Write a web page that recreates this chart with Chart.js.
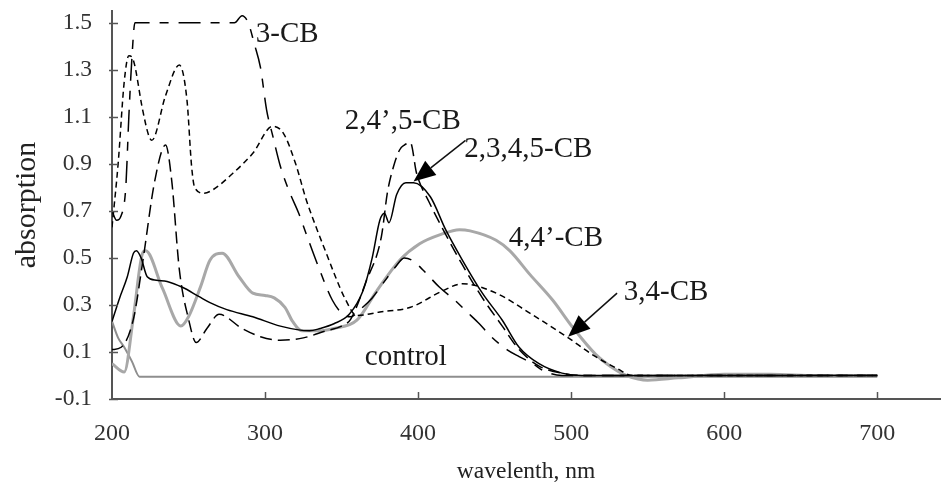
<!DOCTYPE html>
<html>
<head>
<meta charset="utf-8">
<script src="https://cdn.jsdelivr.net/npm/chart.js@4"></script>
<style>
  html, body { margin: 0; padding: 0; background: #fff; }
  #wrap { width: 946px; height: 487px; }
</style>
</head>
<body>
<div id="wrap"><canvas id="spectraChart" width="946" height="487"></canvas></div>
<script>
// tick values
const xTicks = [200, 300, 400, 500, 600, 700];
const yTicks = [-0.1, 0.1, 0.3, 0.5, 0.7, 0.9, 1.1, 1.3, 1.5];

// 3-CB
const cb3X = [200, 203, 206, 209, 211, 213, 215, 250, 280, 285, 289, 293, 297, 301, 305, 310, 316, 322, 327, 335, 344, 351, 356, 362, 370, 378, 385, 391, 396, 403, 414, 424, 432, 440, 447, 458, 466, 475, 482, 494, 550, 700];
const cb3Y = [0.70, 0.66, 0.68, 0.80, 1.10, 1.35, 1.50, 1.50, 1.50, 1.53, 1.50, 1.41, 1.31, 1.13, 1.02, 0.89, 0.78, 0.69, 0.60, 0.46, 0.32, 0.26, 0.25, 0.28, 0.33, 0.40, 0.46, 0.50, 0.49, 0.45, 0.375, 0.32, 0.27, 0.22, 0.17, 0.11, 0.08, 0.05, 0.02, 0.0, 0.0, 0.0];

// 2,4',5-CB
const cb245X = [200, 206, 214, 220, 228, 235, 239, 244, 250, 255, 262, 270, 285, 297, 310, 325, 340, 350, 356, 366, 376, 380, 384, 388, 391, 395, 399, 407, 418, 429, 442, 455, 466, 479, 494, 507, 700];
const cb245Y = [0.11, 0.12, 0.24, 0.48, 0.83, 0.98, 0.83, 0.45, 0.24, 0.14, 0.20, 0.26, 0.20, 0.165, 0.15, 0.16, 0.19, 0.21, 0.24, 0.40, 0.59, 0.78, 0.89, 0.96, 0.98, 0.99, 0.86, 0.74, 0.60, 0.47, 0.33, 0.21, 0.11, 0.04, 0.01, 0.0, 0.0];

// 2,3,4,5-CB
const cb2345X = [200, 205, 210, 214, 216, 219, 223, 229, 236, 246, 257, 264, 275, 292, 310, 329, 336, 345, 355, 364, 370, 375, 378, 381, 386, 392, 397, 408, 418, 429, 442, 455, 466, 479, 494, 507, 700];
const cb2345Y = [0.23, 0.33, 0.42, 0.52, 0.53, 0.50, 0.42, 0.405, 0.40, 0.375, 0.335, 0.31, 0.28, 0.25, 0.21, 0.19, 0.20, 0.22, 0.26, 0.36, 0.50, 0.66, 0.69, 0.65, 0.77, 0.82, 0.82, 0.76, 0.62, 0.49, 0.35, 0.235, 0.12, 0.05, 0.01, 0.0, 0.0];

// 4,4'-CB
const cb44X = [200, 208, 214, 220, 222, 233, 245, 250, 258, 264, 272, 283, 292, 300, 306, 313, 318, 324, 335, 345, 360, 373, 388, 401, 415, 427, 434, 451, 460, 473, 488, 501, 516, 530, 536, 550, 570, 600, 630, 660, 700];
const cb44Y = [0.05, 0.015, 0.25, 0.52, 0.53, 0.37, 0.21, 0.25, 0.38, 0.49, 0.52, 0.42, 0.35, 0.34, 0.33, 0.29, 0.23, 0.19, 0.19, 0.20, 0.235, 0.36, 0.49, 0.56, 0.60, 0.62, 0.615, 0.575, 0.53, 0.43, 0.32, 0.205, 0.09, 0.02, 0.0, -0.02, -0.01, 0.005, 0.005, 0.0, 0.0];

// 3,4-CB
const cb34X = [200, 204, 208, 211, 214, 220, 224, 226, 235, 244, 249, 252, 254, 260, 266, 279, 292, 305, 312, 320, 327, 334, 340, 346, 352, 360, 375, 395, 416, 429, 451, 473, 497, 516, 530, 540, 700];
const cb34Y = [0.63, 0.90, 1.25, 1.36, 1.34, 1.13, 1.02, 1.00, 1.19, 1.32, 1.17, 0.89, 0.80, 0.775, 0.79, 0.86, 0.945, 1.06, 1.03, 0.90, 0.745, 0.62, 0.52, 0.42, 0.33, 0.255, 0.27, 0.29, 0.36, 0.39, 0.35, 0.265, 0.165, 0.08, 0.03, 0.0, 0.0];

// control
const controlX = [200, 204, 208, 213, 218, 700];
const controlY = [0.23, 0.16, 0.12, 0.06, -0.005, -0.005];

// curve labels, placed in data units; arrows go from (ax0, ay0) to the tip (ax1, ay1)
const notes = [
    { text: '3-CB', x: 294, y: 1.45, align: 'left' },
    { text: '2,4\u2019,5-CB', x: 390, y: 1.08, align: 'center' },
    { text: '2,3,4,5-CB', x: 472, y: 0.96, align: 'center', arrow: [431, 1.0, 397, 0.825] },
    { text: '4,4\u2019-CB', x: 490, y: 0.585, align: 'center' },
    { text: '3,4-CB', x: 562, y: 0.355, align: 'center', arrow: [530, 0.35, 498, 0.165] },
    { text: 'control', x: 392, y: 0.075, align: 'center' }
];

const serif = '"Liberation Serif", "Times New Roman", serif';

function points(xs, ys) {
    return xs.map((x, i) => ({ x, y: ys[i] }));
}

const decorPlugin = {
    id: 'decor',
    afterDraw(chart) {
        const { ctx, chartArea } = chart;
        const x = chart.scales.x;
        const y = chart.scales.y;
        ctx.save();

        // small tick marks on the inside of the axes
        ctx.strokeStyle = '#555';
        ctx.lineWidth = 1.5;
        yTicks.forEach(v => {
            const py = Math.round(y.getPixelForValue(v)) + 0.5;
            ctx.beginPath();
            ctx.moveTo(chartArea.left - 3, py);
            ctx.lineTo(chartArea.left + 6, py);
            ctx.stroke();
        });
        xTicks.slice(1).forEach(v => {
            const px = Math.round(x.getPixelForValue(v)) + 0.5;
            ctx.beginPath();
            ctx.moveTo(px, chartArea.bottom);
            ctx.lineTo(px, chartArea.bottom - 7);
            ctx.stroke();
        });

        // labels and arrows
        ctx.font = '29px ' + serif;
        ctx.fillStyle = '#1a1a1a';
        ctx.textBaseline = 'middle';
        notes.forEach(n => {
            ctx.textAlign = n.align;
            ctx.fillText(n.text, x.getPixelForValue(n.x), y.getPixelForValue(n.y));
            if (n.arrow) {
                const x0 = x.getPixelForValue(n.arrow[0]);
                const y0 = y.getPixelForValue(n.arrow[1]);
                const x1 = x.getPixelForValue(n.arrow[2]);
                const y1 = y.getPixelForValue(n.arrow[3]);
                const ang = Math.atan2(y1 - y0, x1 - x0);
                const len = 22, half = 9;
                const bx = x1 - len * Math.cos(ang);
                const by = y1 - len * Math.sin(ang);
                ctx.strokeStyle = '#111';
                ctx.lineWidth = 1.5;
                ctx.beginPath();
                ctx.moveTo(x0, y0);
                ctx.lineTo(bx, by);
                ctx.stroke();
                ctx.fillStyle = '#000';
                ctx.beginPath();
                ctx.moveTo(x1, y1);
                ctx.lineTo(bx + half * Math.sin(ang), by - half * Math.cos(ang));
                ctx.lineTo(bx - half * Math.sin(ang), by + half * Math.cos(ang));
                ctx.closePath();
                ctx.fill();
                ctx.fillStyle = '#1a1a1a';
            }
        });
        ctx.restore();
    }
};

const common = {
    pointRadius: 0,
    fill: false,
    cubicInterpolationMode: 'monotone'
};

new Chart(document.getElementById('spectraChart').getContext('2d'), {
    type: 'line',
    data: {
        datasets: [
            { ...common, label: '2,3,4,5-CB', data: points(cb2345X, cb2345Y), borderColor: '#000', borderWidth: 1.5 },
            { ...common, label: '2,4\u2019,5-CB', data: points(cb245X, cb245Y), borderColor: '#000', borderWidth: 1.5, borderDash: [12, 6] },
            { ...common, label: '3-CB', data: points(cb3X, cb3Y), borderColor: '#000', borderWidth: 1.5, borderDash: [22, 10, 9, 10] },
            { ...common, label: '3,4-CB', data: points(cb34X, cb34Y), borderColor: '#000', borderWidth: 1.5, borderDash: [6, 4] },
            { ...common, label: '4,4\u2019-CB', data: points(cb44X, cb44Y), borderColor: '#a8a8a8', borderWidth: 3 },
            { ...common, label: 'control', data: points(controlX, controlY), borderColor: '#8e8e8e', borderWidth: 2 }
        ]
    },
    options: {
        responsive: false,
        animation: false,
        devicePixelRatio: 1,
        layout: { padding: { top: 11, right: 6, left: 0, bottom: 0 } },
        plugins: {
            legend: { display: false },
            tooltip: { enabled: false }
        },
        scales: {
            x: {
                type: 'linear',
                min: 200,
                max: 741,
                afterBuildTicks: scale => { scale.ticks = xTicks.map(v => ({ value: v })); },
                afterFit: scale => {
                    scale.height = 88;
                    scale.paddingLeft = 0;
                    scale.paddingRight = 0;
                },
                grid: { display: true, drawOnChartArea: false, drawTicks: false },
                border: { display: true, color: '#555', width: 2 },
                ticks: {
                    padding: 20,
                    color: '#333',
                    font: { family: serif, size: 24 },
                    maxRotation: 0
                },
                title: {
                    display: true,
                    text: 'wavelenth, nm',
                    color: '#222',
                    font: { family: serif, size: 23.5 },
                    padding: { top: 0, bottom: 1 }
                }
            },
            y: {
                min: -0.1,
                max: 1.55,
                afterBuildTicks: scale => { scale.ticks = yTicks.map(v => ({ value: v })); },
                afterFit: scale => {
                    scale.width = 112;
                    scale.paddingTop = 0;
                    scale.paddingBottom = 0;
                },
                grid: { display: true, drawOnChartArea: false, drawTicks: false },
                border: { display: true, color: '#555', width: 2 },
                ticks: {
                    padding: 20,
                    color: '#333',
                    font: { family: serif, size: 23.5, lineHeight: 1.0 },
                    callback: v => v.toFixed(1)
                },
                title: {
                    display: true,
                    text: 'absorption',
                    color: '#222',
                    font: { family: serif, size: 30 },
                    padding: { top: 9, bottom: 0 }
                }
            }
        }
    },
    plugins: [decorPlugin]
});
</script>
</body>
</html>
